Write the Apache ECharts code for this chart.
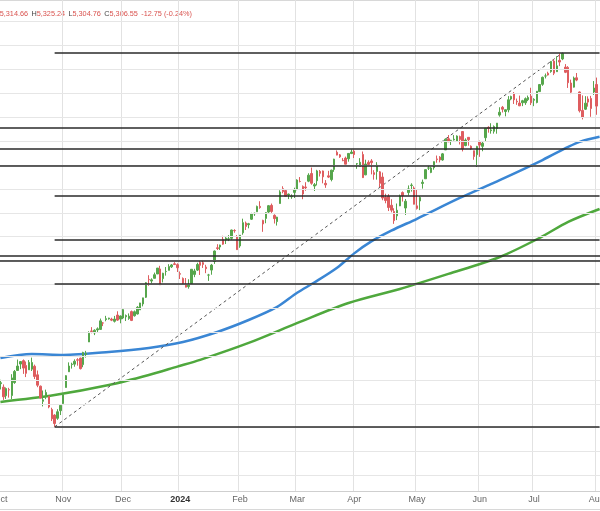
<!DOCTYPE html>
<html><head><meta charset="utf-8">
<script src="https://cdn.jsdelivr.net/npm/echarts@6/dist/echarts.min.js"></script>
<style>html,body{margin:0;padding:0;background:#fff}#c{width:600px;height:511px}</style>
</head><body><div id="c"></div>
<script>
const dates = [
'2023-10-02','2023-10-03','2023-10-04','2023-10-05','2023-10-06','2023-10-09','2023-10-10','2023-10-11','2023-10-12','2023-10-13','2023-10-16','2023-10-17','2023-10-18','2023-10-19','2023-10-20','2023-10-23','2023-10-24','2023-10-25','2023-10-26','2023-10-27','2023-10-30','2023-10-31',
'2023-11-01','2023-11-02','2023-11-03','2023-11-06','2023-11-07','2023-11-08','2023-11-09','2023-11-10','2023-11-13','2023-11-14','2023-11-15','2023-11-16','2023-11-17','2023-11-20','2023-11-21','2023-11-22','2023-11-24','2023-11-27','2023-11-28','2023-11-29','2023-11-30',
'2023-12-01','2023-12-04','2023-12-05','2023-12-06','2023-12-07','2023-12-08','2023-12-11','2023-12-12','2023-12-13','2023-12-14','2023-12-15','2023-12-18','2023-12-19','2023-12-20','2023-12-21','2023-12-22','2023-12-26','2023-12-27','2023-12-28','2023-12-29',
'2024-01-02','2024-01-03','2024-01-04','2024-01-05','2024-01-08','2024-01-09','2024-01-10','2024-01-11','2024-01-12','2024-01-16','2024-01-17','2024-01-18','2024-01-19','2024-01-22','2024-01-23','2024-01-24','2024-01-25','2024-01-26','2024-01-29','2024-01-30','2024-01-31',
'2024-02-01','2024-02-02','2024-02-05','2024-02-06','2024-02-07','2024-02-08','2024-02-09','2024-02-12','2024-02-13','2024-02-14','2024-02-15','2024-02-16','2024-02-20','2024-02-21','2024-02-22','2024-02-23','2024-02-26','2024-02-27','2024-02-28','2024-02-29',
'2024-03-01','2024-03-04','2024-03-05','2024-03-06','2024-03-07','2024-03-08','2024-03-11','2024-03-12','2024-03-13','2024-03-14','2024-03-15','2024-03-18','2024-03-19','2024-03-20','2024-03-21','2024-03-22','2024-03-25','2024-03-26','2024-03-27','2024-03-28',
'2024-04-01','2024-04-02','2024-04-03','2024-04-04','2024-04-05','2024-04-08','2024-04-09','2024-04-10','2024-04-11','2024-04-12','2024-04-15','2024-04-16','2024-04-17','2024-04-18','2024-04-19','2024-04-22','2024-04-23','2024-04-24','2024-04-25','2024-04-26','2024-04-29','2024-04-30',
'2024-05-01','2024-05-02','2024-05-03','2024-05-06','2024-05-07','2024-05-08','2024-05-09','2024-05-10','2024-05-13','2024-05-14','2024-05-15','2024-05-16','2024-05-17','2024-05-20','2024-05-21','2024-05-22','2024-05-23','2024-05-24','2024-05-28','2024-05-29','2024-05-30','2024-05-31',
'2024-06-03','2024-06-04','2024-06-05','2024-06-06','2024-06-07','2024-06-10','2024-06-11','2024-06-12','2024-06-13','2024-06-14','2024-06-17','2024-06-18','2024-06-20','2024-06-21','2024-06-24','2024-06-25','2024-06-26','2024-06-27','2024-06-28',
'2024-07-01','2024-07-02','2024-07-03','2024-07-05','2024-07-08','2024-07-09','2024-07-10','2024-07-11','2024-07-12','2024-07-15','2024-07-16','2024-07-17','2024-07-18','2024-07-19','2024-07-22','2024-07-23','2024-07-24','2024-07-25','2024-07-26','2024-07-29','2024-07-30','2024-07-31',
'2024-08-01','2024-08-02'
];
// [open, high, low, close]
const ohlc = [
[4284.5,4300.6,4260.2,4288.4],[4269.8,4281.2,4216.5,4229.5],[4233.8,4268.5,4220.5,4263.8],[4259.3,4267.1,4225.9,4258.2],[4234.8,4324.1,4219.6,4308.5],
[4289.0,4341.7,4283.8,4335.7],[4339.8,4385.5,4339.6,4358.2],[4366.6,4378.6,4345.3,4376.9],[4380.9,4385.9,4325.4,4349.6],[4360.5,4377.1,4312.0,4327.8],
[4342.4,4383.3,4342.4,4373.6],[4345.2,4393.6,4337.5,4373.2],[4357.4,4364.2,4303.8,4314.6],[4321.4,4339.5,4269.7,4278.0],[4273.9,4276.6,4223.0,4224.2],
[4210.4,4255.8,4189.2,4217.0],[4235.8,4259.4,4219.4,4247.7],[4232.4,4232.4,4181.4,4186.8],[4176.0,4183.6,4127.9,4137.2],[4152.9,4156.7,4103.8,4117.4],
[4139.4,4177.5,4132.9,4166.8],[4171.3,4194.0,4153.1,4193.8],
[4201.3,4245.6,4197.7,4237.9],[4268.3,4319.7,4268.3,4317.8],[4334.2,4373.6,4334.2,4358.3],[4364.3,4372.2,4347.5,4366.0],[4366.2,4386.3,4355.4,4378.4],
[4384.4,4391.2,4359.8,4382.8],[4391.4,4393.4,4343.9,4347.4],[4364.2,4418.0,4353.3,4415.2],[4406.7,4421.8,4393.8,4411.6],[4459.0,4503.7,4459.0,4495.7],
[4505.3,4521.2,4495.3,4502.9],[4497.1,4512.0,4487.8,4508.2],[4509.6,4520.1,4499.7,4514.0],[4511.7,4557.1,4510.4,4547.4],[4538.8,4542.1,4525.5,4538.2],
[4553.0,4568.4,4545.7,4556.6],[4555.8,4560.3,4552.8,4559.3],[4554.9,4560.5,4546.3,4550.4],[4545.6,4568.1,4540.5,4554.9],[4571.8,4587.6,4547.2,4550.6],
[4554.9,4569.9,4537.2,4567.8],
[4559.4,4599.4,4554.7,4594.6],[4564.4,4574.1,4546.7,4569.8],[4557.3,4578.6,4551.7,4567.2],[4586.2,4590.7,4546.5,4549.3],[4568.8,4590.9,4565.2,4585.6],
[4576.2,4609.2,4574.1,4604.4],[4593.4,4623.0,4593.4,4622.4],[4618.3,4643.9,4608.1,4643.7],[4646.2,4709.7,4643.2,4707.1],[4721.0,4738.6,4694.3,4719.6],
[4714.2,4725.5,4704.7,4719.2],[4725.6,4749.5,4725.6,4740.6],[4743.7,4768.7,4743.7,4768.4],[4764.7,4778.0,4697.8,4698.4],[4724.3,4748.7,4708.4,4746.8],
[4753.9,4772.9,4736.8,4754.6],[4758.9,4784.7,4758.9,4774.8],[4773.5,4785.4,4768.9,4781.6],[4786.4,4793.3,4781.0,4783.4],[4782.9,4788.4,4752.0,4769.8],
[4745.2,4754.3,4722.7,4742.8],[4725.1,4729.3,4699.7,4704.8],[4697.4,4726.8,4687.5,4688.7],[4690.6,4721.5,4682.1,4697.2],[4703.7,4764.5,4699.8,4763.5],
[4741.9,4765.5,4730.4,4756.5],[4759.9,4790.8,4756.2,4783.5],[4792.1,4798.5,4739.6,4780.2],[4791.2,4802.4,4769.0,4783.8],[4772.4,4782.3,4747.1,4766.0],
[4739.1,4744.2,4714.8,4739.2],[4760.1,4785.8,4740.6,4780.9],[4796.3,4842.1,4785.9,4839.8],[4853.4,4868.4,4844.1,4850.4],[4856.8,4866.5,4844.4,4864.6],
[4888.6,4903.7,4865.9,4868.6],[4886.7,4898.2,4869.3,4894.2],[4888.9,4906.7,4881.5,4891.0],[4893.0,4929.3,4887.4,4927.9],[4925.9,4931.1,4916.4,4925.0],
[4899.2,4906.8,4845.2,4845.7],
[4861.1,4907.0,4853.5,4906.2],[4916.1,4975.3,4908.0,4958.6],[4957.2,4963.4,4927.9,4942.8],[4950.2,4957.8,4934.9,4954.2],[4973.1,4999.9,4970.0,4995.1],
[4995.5,5000.4,4987.1,4997.9],[5004.2,5030.1,5004.2,5026.6],[5026.8,5048.4,5016.8,5021.8],[4967.9,4971.0,4920.3,4953.2],[4976.4,5002.5,4956.2,5000.6],
[5003.1,5032.7,4999.4,5029.7],[5031.1,5038.7,4999.5,5005.6],[4989.3,4993.6,4955.0,4975.5],[4963.0,4983.2,4946.5,4981.8],[5038.8,5094.4,5038.8,5087.0],
[5100.9,5111.1,5081.5,5088.8],[5093.0,5097.7,5068.9,5069.5],[5074.6,5080.7,5057.3,5078.2],[5067.2,5077.4,5058.4,5069.8],[5085.4,5105.0,5061.9,5096.3],
[5098.5,5140.3,5094.2,5137.1],[5131.0,5149.7,5127.2,5130.9],[5110.5,5114.5,5056.8,5078.7],[5108.0,5128.0,5092.2,5104.8],[5132.4,5165.6,5128.2,5157.4],
[5164.5,5189.3,5117.5,5123.7],[5112.0,5124.7,5091.1,5117.9],[5134.3,5179.9,5114.5,5175.3],[5173.5,5179.1,5151.9,5165.3],[5175.1,5176.9,5123.3,5150.5],
[5123.3,5136.9,5104.4,5117.1],[5154.8,5175.6,5145.5,5149.4],[5139.1,5180.3,5131.6,5178.5],[5181.7,5226.2,5171.5,5224.6],[5253.4,5261.1,5240.7,5241.5],
[5242.5,5246.1,5229.9,5234.2],[5219.5,5229.1,5216.1,5218.2],[5228.9,5235.2,5203.4,5203.6],[5226.3,5249.0,5213.9,5248.5],[5248.0,5264.9,5245.8,5254.4],
[5258.0,5264.0,5229.2,5243.8],[5204.3,5208.3,5184.1,5205.8],[5194.4,5228.8,5194.4,5211.5],[5244.1,5256.6,5146.1,5147.2],[5158.9,5222.2,5157.2,5204.3],
[5211.4,5219.6,5197.4,5202.4],[5217.0,5224.8,5160.8,5209.9],[5167.9,5178.4,5138.7,5160.6],[5173.0,5211.8,5138.8,5199.1],[5171.5,5175.0,5107.9,5123.4],
[5149.7,5168.4,5052.5,5061.8],[5064.6,5079.8,5039.8,5051.4],[5069.0,5078.0,5007.3,5022.2],[5031.5,5056.7,5001.9,5011.1],[5005.4,5019.0,4953.6,4967.2],
[4987.3,5038.8,4969.4,5010.6],[5028.9,5076.1,5028.0,5070.6],[5084.7,5089.5,5047.0,5071.6],[5019.9,5057.8,4990.6,5048.4],[5084.6,5114.6,5073.1,5100.0],
[5114.1,5123.5,5088.7,5116.2],[5103.8,5110.8,5035.3,5035.7],
[5029.0,5096.1,5013.5,5018.4],[5049.3,5070.0,5011.0,5064.2],[5122.8,5139.1,5101.2,5127.8],[5142.4,5181.0,5142.4,5180.7],[5187.2,5200.2,5179.0,5187.7],
[5169.0,5192.0,5165.9,5187.7],[5189.0,5215.3,5180.4,5214.1],[5225.5,5239.7,5209.7,5222.7],[5233.1,5237.3,5211.2,5221.4],[5221.1,5250.4,5218.0,5246.7],
[5263.3,5311.8,5263.3,5308.2],[5310.1,5325.5,5296.2,5297.1],[5303.1,5305.4,5283.6,5303.3],[5305.4,5325.3,5302.4,5308.1],[5298.7,5324.3,5297.9,5321.4],
[5319.3,5323.2,5286.0,5307.0],[5340.3,5341.9,5256.9,5267.8],[5281.5,5311.6,5278.4,5304.7],[5315.9,5315.9,5280.9,5306.0],[5278.7,5282.3,5262.7,5267.0],
[5259.8,5260.2,5222.1,5235.5],[5243.2,5280.3,5191.7,5277.5],
[5297.2,5302.1,5234.3,5283.4],[5278.2,5298.8,5257.6,5291.3],[5314.5,5354.2,5297.6,5354.0],[5357.8,5362.4,5335.4,5353.0],[5343.8,5375.1,5331.3,5347.0],
[5341.2,5365.8,5331.5,5360.8],[5353.0,5376.0,5331.3,5375.3],[5409.1,5441.9,5402.5,5421.0],[5441.9,5447.3,5420.0,5433.7],[5424.1,5432.4,5403.8,5431.6],
[5431.1,5488.5,5420.4,5473.2],[5476.2,5490.4,5471.3,5487.0],[5500.0,5505.5,5455.6,5473.2],[5466.8,5478.3,5452.0,5464.6],[5459.6,5490.7,5446.8,5447.9],
[5460.7,5472.9,5446.6,5469.3],[5460.7,5483.1,5451.9,5477.9],[5473.6,5490.8,5467.5,5482.9],[5488.5,5523.6,5451.1,5460.5],
[5471.1,5479.6,5446.5,5475.1],[5461.8,5509.7,5458.4,5509.0],[5507.4,5539.3,5507.4,5537.0],[5537.9,5570.3,5531.6,5567.2],[5572.8,5583.1,5562.5,5572.9],
[5584.2,5590.8,5574.6,5577.0],[5591.3,5635.4,5586.4,5633.9],[5635.2,5642.5,5576.5,5584.5],[5590.8,5655.6,5590.4,5615.4],[5638.2,5666.9,5614.1,5631.2],
[5644.1,5669.7,5639.0,5667.2],[5610.1,5622.5,5584.8,5588.3],[5608.6,5614.1,5522.8,5544.6],[5543.4,5557.5,5497.0,5505.0],[5526.1,5570.4,5524.5,5564.4],
[5565.3,5585.3,5550.9,5555.7],[5505.8,5508.0,5420.0,5427.1],[5428.7,5491.5,5391.0,5399.2],[5433.7,5488.3,5430.7,5459.1],[5476.6,5487.7,5444.4,5463.5],
[5478.7,5489.5,5401.9,5436.4],[5505.6,5551.5,5493.7,5522.3],
[5537.3,5566.2,5410.4,5446.7]
];
// moving averages: [trading-day index, value]
const ma100 = [[0,4392],[11,4409],[22,4405],[38,4417],[52,4434],[64,4459],[76,4501],[87,4551],[97,4606],[104,4665],[110,4708],[118,4770],[124,4830],[130,4880],[137,4925],[146,4975],[161,5062],[175,5137],[190,5221],[199,5276],[203,5297],[210,5318]];
const ma200 = [[0,4208],[19,4237],[38,4279],[52,4321],[62,4356],[70,4384],[87,4455],[105,4543],[122,4622],[140,4681],[157,4744],[175,4815],[189,4895],[199,4962],[210,5016]];
const trendLine = [[19,4103.8],[197,5669.7]];
const fibLevels = [5669.7, 5071.5, 4886.75, 4702.0, 4103.8];
const fibStartIndex = 19;
const levelLines = [5358, 5267, 5196, 4819, 4798];
const gridValues = [3900,4000,4100,4200,4300,4400,4500,4600,4700,4800,4900,5000,5100,5200,5300,5400,5500,5600,5700,5800];
const tickDates = ['2023-10-02','2023-11-01','2023-12-01','2024-01-02','2024-02-01','2024-03-01','2024-04-01','2024-05-01','2024-06-03','2024-07-01','2024-08-01'];
const tickLabels = ['Oct','Nov','Dec','2024','Feb','Mar','Apr','May','Jun','Jul','Aug'];
const header = {o:'5,314.66', h:'5,325.24', l:'5,304.76', c:'5,306.55', chg:'-12.75', pct:'(-0.24%)'};

const yMin = 3835, yMax = 5891;
const tickSet = new Set(tickDates);
const lastIdx = dates.length - 1;
const candleData = ohlc.map(r => [r[0], r[3], r[2], r[1]]);

const chart = echarts.init(document.getElementById('c'), null, {renderer:'canvas'});
const RED = '#de5d5f', GREEN = '#56a64c';
const redTxt = '#d9534f', darkTxt = '#444';
const F = '7.3px Liberation Sans';
chart.setOption({
  animation:false,
  backgroundColor:'#fff',
  grid:{left:-1, right:-1, top:0, bottom:20, containLabel:false, outerBoundsMode:'none'},
  xAxis:{type:'category', data:dates, boundaryGap:true,
    axisLine:{show:true, lineStyle:{color:'#cfcfcf'}},
    axisTick:{show:false},
    axisLabel:{interval:(i,v)=>tickSet.has(v), margin:4, fontSize:9, color:'#666', fontFamily:'Liberation Sans', hideOverlap:false, showMinLabel:true, showMaxLabel:true,
      formatter:(v)=>{const k=tickDates.indexOf(v); const t=tickLabels[k]; return /^\d{4}$/.test(t)?'{b|'+t+'}':t;},
      rich:{b:{fontWeight:'bold', color:'#333', fontSize:9, fontFamily:'Liberation Sans'}}},
    splitLine:{show:true, interval:(i,v)=>tickSet.has(v), lineStyle:{color:'#e2e2e2', width:1}}
  },
  yAxis:{type:'value', min:yMin, max:yMax, show:false, splitLine:{show:false}},
  series:[
    {name:'grid', type:'line', data:[], z:1, silent:true,
      markLine:{silent:true, symbol:'none', label:{show:false}, animation:false,
        lineStyle:{color:'#e6e6e6', width:1, type:'solid'},
        data:gridValues.map(v=>({yAxis:v}))}},
    {name:'levels', type:'line', data:[], z:2, silent:true,
      markLine:{silent:true, symbol:'none', label:{show:false}, animation:false,
        lineStyle:{color:'#2a2a2a', width:1.5, type:'solid'},
        data:levelLines.map(v=>({yAxis:v})).concat(
          fibLevels.map(v=>[{coord:[fibStartIndex, v]},{coord:[lastIdx, v]}]))}},
    {name:'MA200', type:'line', data:ma200, smooth:0.3, showSymbol:false, z:3,
      lineStyle:{color:'#4fa83d', width:2.5}},
    {name:'MA100', type:'line', data:ma100, smooth:0.3, showSymbol:false, z:3,
      lineStyle:{color:'#3a86d4', width:2.5}},
    {name:'trend', type:'line', data:trendLine, showSymbol:false, z:3,
      lineStyle:{color:'#555', width:1, type:[3,3]}},
    {name:'SPX', type:'candlestick', data:candleData, barWidth:2, z:4,
      itemStyle:{color:GREEN, color0:RED, borderColor:GREEN, borderColor0:RED, borderWidth:1}}
  ],
  graphic:[
    {type:'line', shape:{x1:0,y1:0.5,x2:600,y2:0.5}, style:{stroke:'#d8d8d8', lineWidth:1}, silent:true},
    {type:'line', shape:{x1:0,y1:509.5,x2:600,y2:509.5}, style:{stroke:'#d8d8d8', lineWidth:1}, silent:true},
    {type:'text', left:-6, top:8, silent:true, style:{
      rich:{a:{fill:darkTxt, font:F}, r:{fill:redTxt, font:F}},
      text:'{r|O'+header.o+'} {a|H}{r|'+header.h+'} {a|L}{r|'+header.l+'} {a|C}{r|'+header.c+'} {r|'+header.chg+' '+header.pct+'}'}}
  ]
});
</script></body></html>
